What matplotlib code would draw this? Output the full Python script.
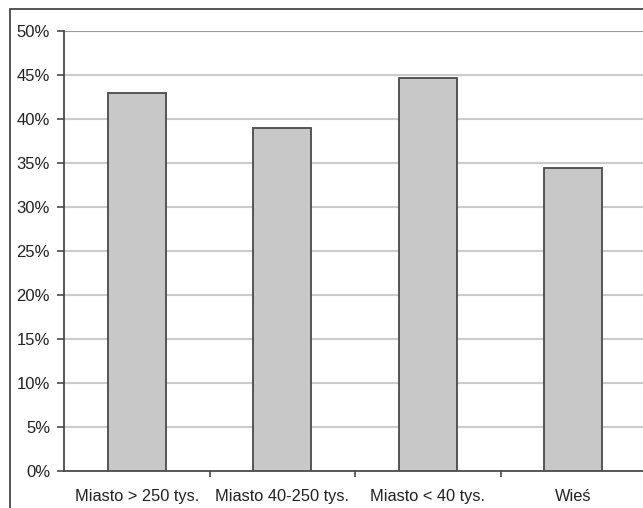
import matplotlib.pyplot as plt
from matplotlib.patches import Rectangle
from matplotlib.ticker import FuncFormatter, MultipleLocator

plt.rcParams['font.family'] = ['Liberation Sans', 'DejaVu Sans']

categories = ['Miasto > 250 tys.', 'Miasto 40-250 tys.', 'Miasto < 40 tys.', 'Wieś']
shares = [42.9, 39.0, 44.6, 34.4]

W, H = 643, 508
fig = plt.figure(figsize=(W / 100, H / 100), dpi=100)

# outer frame, cut off at right and bottom like the source scan
fig.patches.append(Rectangle((10 / W, -0.1), 1.2, (H - 9) / H + 0.1,
                             transform=fig.transFigure, fill=False,
                             edgecolor='#3a3a3a', linewidth=1.2))

left, right, bottom, top = 64, 646, 37.3, 477
ax = fig.add_axes([left / W, bottom / H, (right - left) / W, (top - bottom) / H])

x = list(range(len(categories)))
ax.bar(x, shares, width=0.4, color='#c8c8c8', edgecolor='#4a4a4a',
       linewidth=1.3, zorder=3)

ax.set_xlim(-0.5, len(categories) - 0.5)
ax.set_ylim(0, 50)
ax.yaxis.set_major_locator(MultipleLocator(5))
ax.yaxis.set_major_formatter(FuncFormatter(lambda v, p: f'{v:.0f}%'))

for v in range(5, 50, 5):
    ax.axhline(v, color='#cbcbcb', linewidth=1.5, zorder=1)
ax.axhline(50, color='#9a9a9a', linewidth=1.5, zorder=1)

ax.set_xticks(x)
ax.set_xticklabels(categories)
ax.set_xticks([i + 0.5 for i in x[:-1]], minor=True)
ax.tick_params(axis='x', which='major', length=0, pad=13, labelsize=11.8,
               labelcolor='#222222')
ax.tick_params(axis='x', which='minor', length=4, width=1.2, color='#4a4a4a')
ax.tick_params(axis='y', length=5, width=1.2, color='#4a4a4a', pad=5,
               labelsize=12, labelcolor='#222222')

for s in ['top', 'right']:
    ax.spines[s].set_visible(False)
for s in ['left', 'bottom']:
    ax.spines[s].set_color('#4a4a4a')
    ax.spines[s].set_linewidth(1.3)

fig.savefig('out.png', dpi=100)
